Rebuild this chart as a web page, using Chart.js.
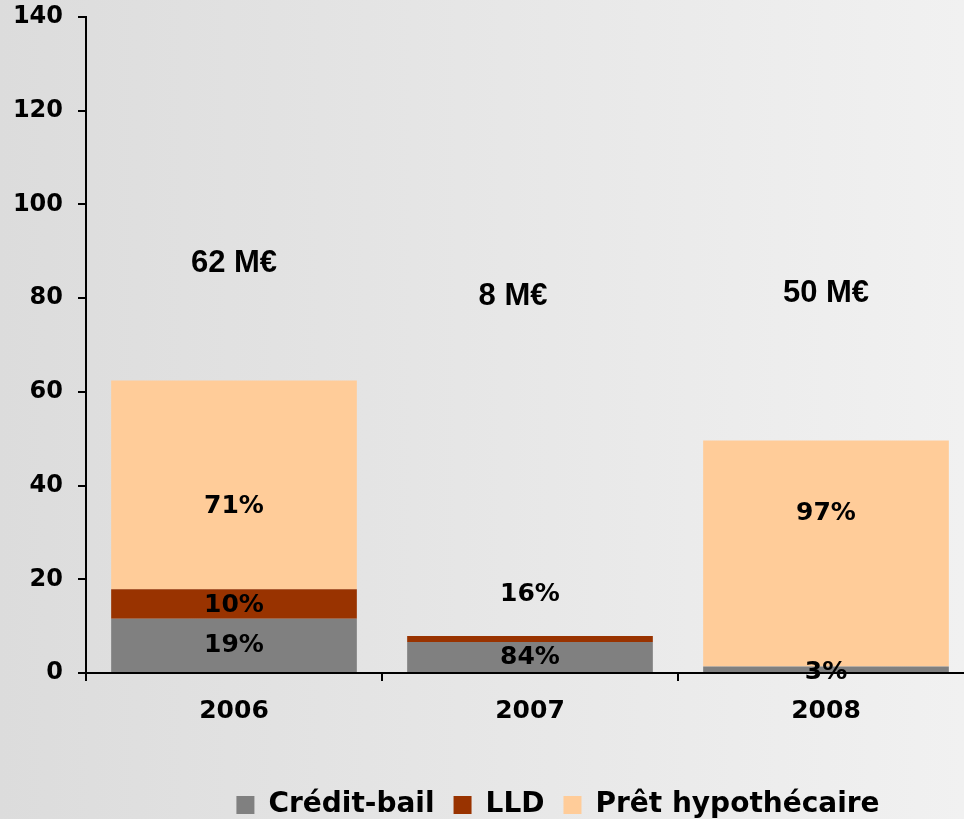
<!DOCTYPE html>
<html><head><meta charset="utf-8">
<script src="https://cdn.jsdelivr.net/npm/chart.js@4.4.0/dist/chart.umd.min.js"></script>
<style>
html,body{margin:0;padding:0;width:964px;height:819px;overflow:hidden;}
body{background:linear-gradient(to right,#dcdcdc 0px,#f1f1f1 964px);position:relative;}
#wrap{position:absolute;left:0;top:0;width:1116px;height:829px;}
</style></head><body>
<div id="wrap"><canvas id="c" width="1116" height="829"></canvas></div>
<script>
// ---- data ----
const categories = ['2006', '2007', '2008'];
const creditBail = [11.6, 6.6, 1.4];
const lld = [6.3, 1.3, 0];
const pretHypo = [44.5, 0, 48.2];
const pctCreditBail = ['19%', '84%', '3%'];
const pctLLD = ['10%', '16%', null];
const pctPret = ['71%', null, '97%'];
const totals = [62, 8, 50];
const yMin = 0, yMax = 140, yStep = 20;

const segLabels = {
  id: 'segLabels',
  afterDraw(chart, args, opts) {
    const ctx = chart.ctx, ys = chart.scales.y;
    ctx.save();
    ctx.fillStyle = '#000';
    ctx.textAlign = 'center';
    ctx.textBaseline = 'middle';
    ctx.font = opts.pctFont;
    opts.pct.forEach((arr, di) => {
      const meta = chart.getDatasetMeta(di);
      arr.forEach((txt, j) => {
        if (!txt) return;
        ctx.fillText(txt, meta.data[j].x, ys.getPixelForValue(opts.pctAt[di][j]));
      });
    });
    ctx.font = opts.totalFont;
    const meta0 = chart.getDatasetMeta(0);
    totals.forEach((t, j) => {
      ctx.fillText(t + ' M€', meta0.data[j].x + opts.totalDx[j], ys.getPixelForValue(opts.totalAt[j]));
    });
    ctx.restore();
  }
};

new Chart(document.getElementById('c'), {
  type: 'bar',
  data: {
    labels: categories,
    datasets: [
      { label: 'Crédit-bail', data: creditBail, backgroundColor: '#808080', borderWidth: 0 },
      { label: 'LLD', data: lld, backgroundColor: '#993300', borderWidth: 0 },
      { label: 'Prêt hypothécaire', data: pretHypo, backgroundColor: '#FFCC99', borderWidth: 0 }
    ]
  },
  plugins: [segLabels],
  options: {
    responsive: false,
    animation: false,
    devicePixelRatio: 1,
    barPercentage: 1,
    categoryPercentage: 0.83,
    layout: { padding: { top: 17, left: 0, right: 0, bottom: 0 } },
    scales: {
      x: {
        stacked: true,
        z: 1,
        grid: { display: true, drawOnChartArea: false, drawTicks: true, tickLength: 8, color: '#000', lineWidth: 2, offset: true },
        border: { display: true, color: '#000', width: 2 },
        ticks: { color: '#000', padding: 15, font: { family: 'DejaVu Sans', weight: 'bold', size: 25 } },
        afterFit(s) { s.height = 99; }
      },
      y: {
        stacked: true,
        min: yMin, max: yMax,
        grid: { display: true, drawOnChartArea: false, drawTicks: true, tickLength: 8, color: '#000', lineWidth: 2 },
        border: { display: true, color: '#000', width: 2 },
        ticks: { stepSize: yStep, color: '#000', padding: 15, font: { family: 'DejaVu Sans', weight: 'bold', size: 24 } },
        afterFit(s) { s.width = 86; s.paddingTop = 0; s.paddingBottom = 0; }
      },
      yR: {
        type: 'linear', position: 'right', display: true,
        grid: { display: false, drawTicks: false }, border: { display: false },
        ticks: { display: false },
        afterFit(s) { s.width = 142; s.paddingTop = 0; s.paddingBottom = 0; }
      }
    },
    plugins: {
      tooltip: { enabled: false },
      legend: {
        position: 'bottom',
        labels: {
          color: '#000', boxWidth: 18, boxHeight: 18, padding: 19,
          font: { family: 'DejaVu Sans', weight: 'bold', size: 28 }
        }
      },
      segLabels: {
        pct: [pctCreditBail, pctLLD, pctPret],
        pctAt: [[5.77, 3.4, 0.2], [14.5, 16.7, null], [35.6, null, 34.1]],
        totalAt: [87.3, 80.4, 81.0],
        totalDx: [0, -17, 0],
        pctFont: 'bold 25px "DejaVu Sans"',
        totalFont: 'bold 31px "Liberation Sans"'
      }
    }
  }
});
</script>
</body></html>
